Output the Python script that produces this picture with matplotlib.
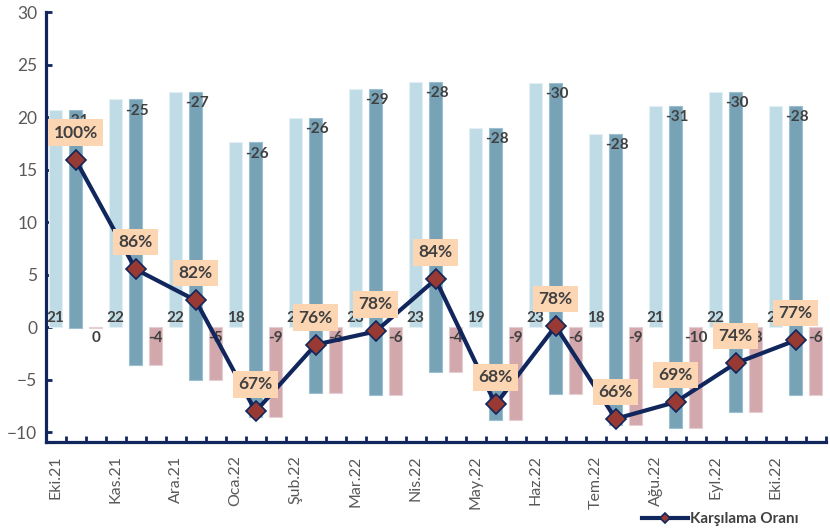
import numpy as np
import matplotlib
matplotlib.use("Agg")
import matplotlib.pyplot as plt
from matplotlib.ticker import FixedLocator

plt.rcParams['font.family'] = ['Lato', 'DejaVu Sans']

# data (billion $)
months = ['Eki.21', 'Kas.21', 'Ara.21', 'Oca.22', 'Şub.22', 'Mar.22', 'Nis.22',
          'May.22', 'Haz.22', 'Tem.22', 'Ağu.22', 'Eyl.22', 'Eki.22']
exports = [20.7, 21.7, 22.4, 17.6, 19.9, 22.7, 23.4, 18.95, 23.3, 18.45, 21.1, 22.4, 21.1]
imports = [-20.8, -25.3, -27.45, -26.15, -26.2, -29.2, -27.7, -27.8, -29.7, -27.75, -30.75, -30.45, -27.6]
balance = [-0.1, -3.6, -5.05, -8.55, -6.3, -6.5, -4.3, -8.85, -6.4, -9.3, -9.65, -8.05, -6.5]
coverage = [99.8, 85.7, 81.7, 67.4, 76.0, 77.7, 84.4, 68.3, 78.4, 66.45, 68.6, 73.6, 76.55]

navy = '#10265c'
grey = '#595959'
lab = '#404040'
c_exp = '#bfdbe5'
c_imp = '#78a3b7'
c_bal = '#d2a8ad'

fig = plt.figure(figsize=(8.3, 5.32), dpi=100)
ax = fig.add_axes([0.055, 0.17, 0.9397, 0.8069])

n = len(months)
x = np.arange(n) * 3
w = 0.68

ax.bar(x, exports, w, color=c_exp, edgecolor='#e3eff4', linewidth=0.8, zorder=2)
ax.bar(x + 1, [-v for v in imports], w, bottom=balance, color=c_imp,
       edgecolor='#9cc0cf', linewidth=0.8, zorder=2)
ax.bar(x + 2, balance, w, color=c_bal, edgecolor='#e6cfd2', linewidth=0.8, zorder=2)

for i in range(n):
    ax.annotate(f"{int(round(exports[i]))}", (x[i], 0), xytext=(0, 6.5),
                textcoords='offset points', ha='center', va='center',
                fontsize=11, fontweight='bold', color=lab, zorder=3)
    ax.annotate(f"{int(round(imports[i]))}", (x[i] + 1, exports[i]), xytext=(1, -8),
                textcoords='offset points', ha='center', va='center',
                fontsize=11, fontweight='bold', color=lab, zorder=3)
    ax.annotate(f"{int(round(balance[i]))}", (x[i] + 2, 0), xytext=(0, -8),
                textcoords='offset points', ha='center', va='center',
                fontsize=11, fontweight='bold', color=lab, zorder=3)

ylo, yhi = -10.9, 30
ax.set_ylim(ylo, yhi)
ax.set_xlim(-0.5, 3 * n - 0.5)
ax.set_yticks(range(-10, 31, 5))
ax.set_xticks(x)
ax.set_xticklabels(months, rotation=90)
ax.xaxis.set_minor_locator(FixedLocator(np.arange(-0.5, 3 * n, 1)))
ax.tick_params(axis='x', which='major', length=0, pad=10, labelsize=11.5, labelcolor=grey)
ax.tick_params(axis='x', which='minor', direction='in', length=4, width=2, color=navy)
ax.tick_params(axis='y', direction='in', length=4, width=2, color=navy,
               labelsize=12.5, labelcolor=grey, pad=6)
for s in ['top', 'right']:
    ax.spines[s].set_visible(False)
for s in ['left', 'bottom']:
    ax.spines[s].set_color(navy)
    ax.spines[s].set_linewidth(2.3)

# coverage ratio on a hidden secondary axis
ax2 = ax.twinx()
a, r0 = 0.74, 78.25
ax2.set_ylim(r0 + ylo / a, r0 + yhi / a)
ax2.axis('off')
line, = ax2.plot(x + 1, coverage, color=navy, lw=3, marker='D', ms=10,
                 mfc='#983a33', mec=navy, mew=1.2, zorder=4, label='Karşılama Oranı')
for i in range(n):
    ax2.annotate(f"{coverage[i]:.0f}%", (x[i] + 1, coverage[i]), xytext=(0, 19.5),
                 textcoords='offset points', ha='center', va='center',
                 fontsize=12.5, fontweight='bold', color=lab, zorder=5,
                 bbox=dict(boxstyle='square,pad=0.3', fc='#fcd5b3', ec='none'))

fig.legend([line], ['Karşılama Oranı'], loc='center right',
           bbox_to_anchor=(0.972, 0.024), frameon=False,
           handlelength=3.0, handletextpad=0.15, borderpad=0, markerscale=0.55,
           labelcolor=lab, prop={'weight': 'bold', 'size': 11})

fig.savefig('out.png', dpi=100)
